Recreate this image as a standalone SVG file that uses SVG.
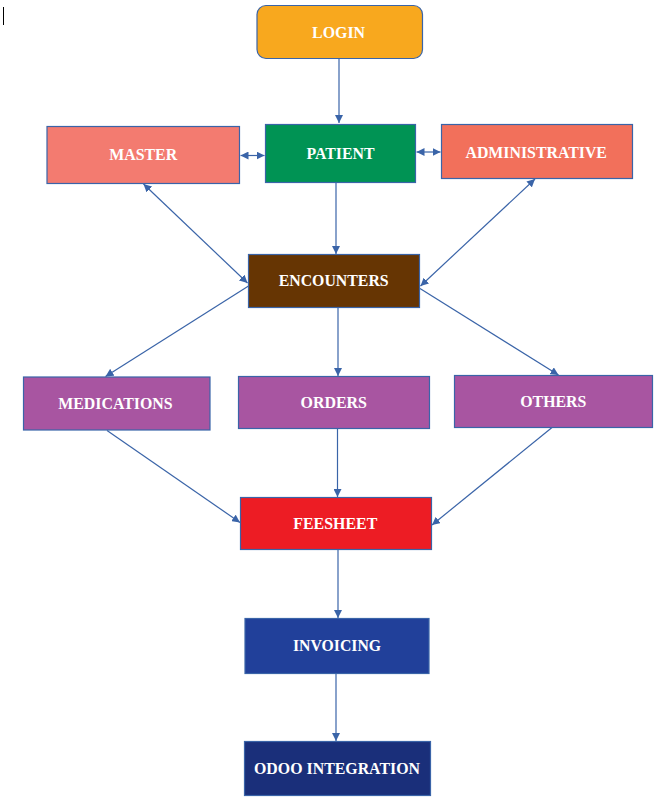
<svg xmlns="http://www.w3.org/2000/svg" width="671" height="804" viewBox="0 0 671 804">
<style>
.box{stroke:#3A64A8;stroke-width:1.2}
.lbl{font-family:"Liberation Serif","Times New Roman",serif;font-weight:bold;font-size:17px;fill:#FFFFFF;text-anchor:middle}
.c{fill:none;stroke:#3A64A8;stroke-width:1.2}
</style>
<defs>
<marker id="ah" viewBox="0 0 10 10" refX="10" refY="5" markerWidth="8" markerHeight="8" markerUnits="userSpaceOnUse" orient="auto-start-reverse">
<path d="M0,0 L10,5 L0,10 z" fill="#3A64A8"/>
</marker>
</defs>
<rect width="671" height="804" fill="#FFFFFF"/>
<line x1="3.5" y1="7" x2="3.5" y2="25" stroke="#000000" stroke-width="1"/>
<g id="connectors">
<line class="c" x1="339" y1="58" x2="339" y2="123" marker-end="url(#ah)"/>
<line class="c" x1="240.5" y1="155.5" x2="264.5" y2="155.5" marker-start="url(#ah)" marker-end="url(#ah)"/>
<line class="c" x1="416.5" y1="152" x2="440.5" y2="152" marker-start="url(#ah)" marker-end="url(#ah)"/>
<line class="c" x1="336" y1="183" x2="336" y2="254" marker-end="url(#ah)"/>
<line class="c" x1="143.5" y1="184" x2="247.5" y2="283" marker-start="url(#ah)" marker-end="url(#ah)"/>
<line class="c" x1="535" y1="179" x2="420.5" y2="286" marker-start="url(#ah)" marker-end="url(#ah)"/>
<line class="c" x1="248.5" y1="286" x2="105.5" y2="376.5" marker-end="url(#ah)"/>
<line class="c" x1="338" y1="307.5" x2="338" y2="376" marker-end="url(#ah)"/>
<line class="c" x1="420" y1="288.5" x2="558.5" y2="375" marker-end="url(#ah)"/>
<line class="c" x1="107" y1="430.5" x2="240" y2="522.5" marker-end="url(#ah)"/>
<line class="c" x1="337.5" y1="428.5" x2="337.5" y2="497" marker-end="url(#ah)"/>
<line class="c" x1="552" y1="427.5" x2="432" y2="525" marker-end="url(#ah)"/>
<line class="c" x1="338" y1="549.5" x2="338" y2="618" marker-end="url(#ah)"/>
<line class="c" x1="336" y1="673.5" x2="336" y2="741" marker-end="url(#ah)"/>
</g>
<g id="login">
<rect class="box" x="257" y="5.5" width="165.5" height="53" rx="9" fill="#F8A81E"/>
<text class="lbl" x="338.6" y="37.7" textLength="53" lengthAdjust="spacingAndGlyphs">LOGIN</text>
</g>
<g id="master">
<rect class="box" x="47" y="126.5" width="192.5" height="57" fill="#F37B70"/>
<text class="lbl" x="143.2" y="160.3" textLength="68" lengthAdjust="spacingAndGlyphs">MASTER</text>
</g>
<g id="patient">
<rect class="box" x="265.5" y="124.5" width="150" height="58" fill="#009354"/>
<text class="lbl" x="340.5" y="159.3" textLength="68" lengthAdjust="spacingAndGlyphs">PATIENT</text>
</g>
<g id="administrative">
<rect class="box" x="441.5" y="124.5" width="191" height="54" fill="#F2705B"/>
<text class="lbl" x="536.2" y="157.7" textLength="141.5" lengthAdjust="spacingAndGlyphs">ADMINISTRATIVE</text>
</g>
<g id="encounters">
<rect class="box" x="248.5" y="254.5" width="171" height="53" fill="#663503"/>
<text class="lbl" x="333.7" y="286.3" textLength="110" lengthAdjust="spacingAndGlyphs">ENCOUNTERS</text>
</g>
<g id="medications">
<rect class="box" x="23.5" y="377" width="186.5" height="53" fill="#A855A1"/>
<text class="lbl" x="115.4" y="409" textLength="114.3" lengthAdjust="spacingAndGlyphs">MEDICATIONS</text>
</g>
<g id="orders">
<rect class="box" x="238.5" y="376.5" width="191" height="52" fill="#A855A1"/>
<text class="lbl" x="333.7" y="408.3" textLength="66.4" lengthAdjust="spacingAndGlyphs">ORDERS</text>
</g>
<g id="others">
<rect class="box" x="454.5" y="375.5" width="198" height="52" fill="#A855A1"/>
<text class="lbl" x="553.3" y="407.3" textLength="66" lengthAdjust="spacingAndGlyphs">OTHERS</text>
</g>
<g id="feesheet">
<rect class="box" x="240.5" y="497.5" width="191" height="52" fill="#ED1C24"/>
<text class="lbl" x="335.3" y="529.3" textLength="84" lengthAdjust="spacingAndGlyphs">FEESHEET</text>
</g>
<g id="invoicing">
<rect class="box" x="245" y="618.5" width="184" height="55" fill="#21409A"/>
<text class="lbl" x="337" y="651.3" textLength="88" lengthAdjust="spacingAndGlyphs">INVOICING</text>
</g>
<g id="odoo">
<rect class="box" x="244.5" y="741.5" width="186" height="54" fill="#1A2F7A"/>
<text class="lbl" x="337" y="774.3" textLength="166" lengthAdjust="spacingAndGlyphs">ODOO INTEGRATION</text>
</g>
</svg>
